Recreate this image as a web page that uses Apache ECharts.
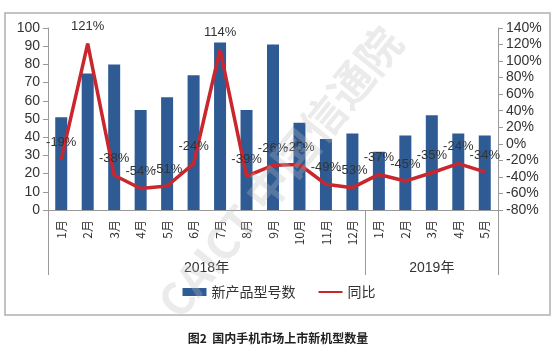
<!DOCTYPE html>
<html><head><meta charset="utf-8">
<script src="https://cdn.jsdelivr.net/npm/echarts@6/dist/echarts.min.js"></script>
<style>html,body{margin:0;padding:0;background:#fff}#c{width:558px;height:355px}</style>
</head><body><div id="c"></div>
<script>
const months = ['1月','2月','3月','4月','5月','6月','7月','8月','9月','10月','11月','12月','1月','2月','3月','4月','5月'];
const yearLabels = ['','','','','','2018年','','','','','','','','','2019年','',''];
const yearBoundaries = [0, 12];
const newModels = [51, 75, 80, 55, 62, 74, 92, 55, 91, 48, 39, 42, 32, 41, 52, 42, 41];
const yoy = [-19, 121, -38, -54, -51, -24, 114, -39, -26, -25, -49, -53, -37, -45, -35, -24, -34];
const leftTicks = {min: 0, max: 100, interval: 10};
const rightTicks = {min: -80, max: 140, interval: 20};
const seriesNames = ['新产品型号数', '同比'];
const titleText = '图2  国内手机市场上市新机型数量';

const font = "'Liberation Sans', 'Noto Sans CJK SC', sans-serif";
const cjk = "'Noto Sans CJK SC', sans-serif";
const chart = echarts.init(document.getElementById('c'), null, {renderer: 'canvas'});
chart.setOption({
  animation: false,
  backgroundColor: '#fff',
  grid: {left: 48, right: 60, top: 28, bottom: 145},
  graphic: [
    {type: 'rect', shape: {x: 5, y: 13, width: 545, height: 302}, style: {fill: 'none', stroke: '#b0b0b0', lineWidth: 1.5}, z: 0},
    {type: 'text', x: 278, y: 338, style: {text: titleText, font: "bold 12px 'Noto Sans CJK SC'", fill: '#222', align: 'center', verticalAlign: 'middle'}},
    {type: 'text', x: 280, y: 172, rotation: 51 * Math.PI / 180, z: 100, silent: true,
     style: {text: 'CAICT 中国信通院', font: "bold 44px 'Noto Sans CJK SC'", fill: 'rgba(190,190,190,0.3)', align: 'center', verticalAlign: 'middle'}}
  ],
  legend: {
    bottom: 51, left: 'center', itemGap: 22, itemWidth: 24, itemHeight: 8,
    textStyle: {fontFamily: cjk, fontSize: 14, color: '#333'},
    data: [
      {name: seriesNames[0], icon: 'rect'},
      {name: seriesNames[1], itemStyle: {opacity: 0}}
    ]
  },
  xAxis: [
    {
      type: 'category', data: months, position: 'bottom',
      axisLine: {onZero: false, lineStyle: {color: '#999', width: 1}},
      axisTick: {interval: 0, length: 33, lineStyle: {color: '#999'}},
      axisLabel: {interval: 0, rotate: 90, margin: 10, fontSize: 12, color: '#333', fontFamily: cjk, hideOverlap: false}
    },
    {
      type: 'category', data: yearLabels, position: 'bottom',
      axisLine: {show: true, onZero: false, lineStyle: {color: '#999', width: 1}},
      axisTick: {show: true, interval: (i) => yearBoundaries.includes(i), length: 65, lineStyle: {color: '#999'}},
      axisLabel: {
        interval: 0, margin: 51, fontSize: 14, color: '#333', fontFamily: font,
        formatter: (v, i) => i === 5 ? '{a|' + v + '}' : v,
        rich: {a: {padding: [0, 0, 0, 26], fontSize: 14, color: '#333', fontFamily: font}}
      }
    }
  ],
  yAxis: [
    {
      type: 'value', position: 'left', min: leftTicks.min, max: leftTicks.max, interval: leftTicks.interval,
      splitLine: {show: false},
      axisLine: {show: true, lineStyle: {color: '#999'}},
      axisTick: {show: true, length: 5, lineStyle: {color: '#999'}},
      axisLabel: {fontSize: 14, color: '#333', margin: 8, fontFamily: font}
    },
    {
      type: 'value', position: 'right', min: rightTicks.min, max: rightTicks.max, interval: rightTicks.interval,
      splitLine: {show: false},
      axisLine: {show: true, lineStyle: {color: '#999'}},
      axisTick: {show: true, length: 5, lineStyle: {color: '#999'}},
      axisLabel: {fontSize: 14, color: '#333', margin: 8, fontFamily: font, formatter: '{value}%'}
    }
  ],
  series: [
    {
      name: seriesNames[0], type: 'bar', data: newModels, barWidth: 12,
      xAxisIndex: 0, yAxisIndex: 0,
      itemStyle: {color: '#2F5B95'}
    },
    {
      name: seriesNames[1], type: 'line', data: yoy, xAxisIndex: 0, yAxisIndex: 1,
      symbol: 'circle', symbolSize: 1, showSymbol: true,
      lineStyle: {color: '#C9272D', width: 3.5}, itemStyle: {color: '#C9272D'},
      label: {show: true, position: 'top', distance: 10, formatter: '{c}%', fontSize: 13, color: '#333', fontFamily: font},
      labelLayout: {hideOverlap: false},
      z: 3
    }
  ]
});
</script></body></html>
